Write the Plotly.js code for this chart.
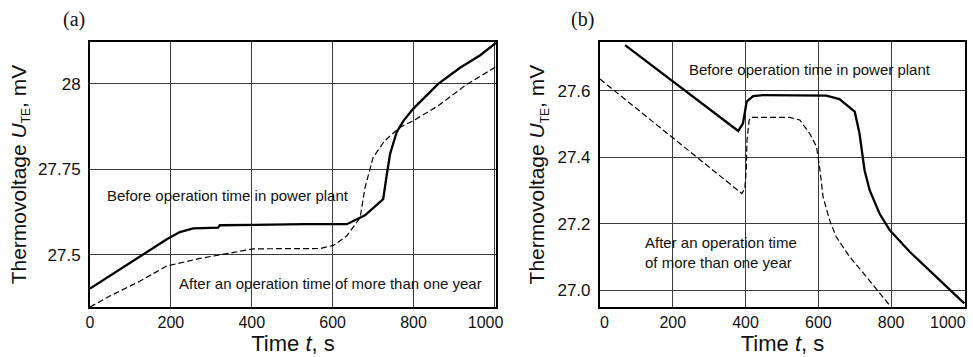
<!DOCTYPE html>
<html>
<head>
<meta charset="utf-8">
<script src="https://cdn.plot.ly/plotly-3.0.1.min.js"></script>
<style>html,body{margin:0;padding:0;background:#fff;}#chart{width:973px;height:357px;}</style>
</head>
<body>
<div id="chart"></div>
<script>
// ---- Data: panel (a) ----
const aBeforeT = [0, 128, 190, 222, 255, 317, 321, 531, 635, 680, 725, 734, 742, 758, 775, 799, 861, 915, 964, 1004];
const aBeforeU = [27.402, 27.500, 27.546, 27.567, 27.578, 27.580, 27.587, 27.590, 27.590, 27.616, 27.663, 27.736, 27.795, 27.858, 27.892, 27.927, 28.000, 28.047, 28.083, 28.120];
const aAfterT = [0, 49, 124, 190, 272, 321, 387, 404, 569, 602, 635, 668, 680, 692, 700, 729, 766, 799, 861, 931, 1004];
const aAfterU = [27.348, 27.380, 27.424, 27.468, 27.490, 27.500, 27.514, 27.518, 27.519, 27.528, 27.556, 27.609, 27.697, 27.746, 27.785, 27.834, 27.873, 27.892, 27.936, 27.998, 28.050];

// ---- Data: panel (b) ----
const bBeforeT = [69, 380, 393, 403, 421, 448, 622, 658, 700, 713, 727, 741, 768, 796, 851, 915, 979, 1001];
const bBeforeU = [27.737, 27.479, 27.502, 27.567, 27.584, 27.587, 27.585, 27.575, 27.537, 27.472, 27.361, 27.301, 27.231, 27.181, 27.116, 27.051, 26.986, 26.961];
const bAfterT = [0, 390, 398, 402, 404, 410, 416, 521, 549, 576, 595, 604, 613, 631, 649, 686, 732, 796];
const bAfterU = [27.635, 27.291, 27.306, 27.361, 27.452, 27.512, 27.520, 27.520, 27.512, 27.472, 27.432, 27.366, 27.281, 27.211, 27.161, 27.101, 27.041, 26.955];

// ---- Ticks and labels ----
const xTicks = [0, 200, 400, 600, 800, 1000];
const aXTickText = ['0', '200', '400', '600', '800', '1000&nbsp;&nbsp;&nbsp;&nbsp;'];
const bXTicks = [0, 200, 400, 600, 800];
const bXTickText = ['&nbsp;&nbsp;0', '200', '400', '600', '800'];
const bXLastTick = '1000';
const aYTicks = [27.5, 27.75, 28];
const aYTickText = ['27.5', '27.75', '28'];
const bYTicks = [27.0, 27.2, 27.4, 27.6];
const bYTickText = ['27.0', '27.2', '27.4', '27.6'];
const labelBefore = 'Before operation time in power plant';
const labelAfterA = 'After an operation time of more than one year';
const labelAfterB = 'After an operation time<br>of more than one year';
const xTitle = 'Time <i>t</i>, s';
const yTitle = 'Thermovoltage <i>U</i><sub><span style="font-size:12px">TE</span></sub>, mV';

const FONT = 'Liberation Sans, Arial, sans-serif';
const SERIF = 'Liberation Serif, Times New Roman, serif';
const solid = {color: '#000', width: 2.3};
const dashed = {color: '#000', width: 1.2, dash: '6px,3px'};

const traces = [
  {x: aBeforeT, y: aBeforeU, xaxis: 'x', yaxis: 'y', mode: 'lines', line: solid, showlegend: false},
  {x: aAfterT, y: aAfterU, xaxis: 'x', yaxis: 'y', mode: 'lines', line: dashed, showlegend: false},
  {x: bBeforeT, y: bBeforeU, xaxis: 'x2', yaxis: 'y2', mode: 'lines', line: solid, showlegend: false},
  {x: bAfterT, y: bAfterU, xaxis: 'x2', yaxis: 'y2', mode: 'lines', line: dashed, showlegend: false}
];

function xax(domain, range, anchor, vals, ticktext) {
  return {
    domain: domain, range: range, anchor: anchor,
    tickvals: vals, ticktext: ticktext, ticks: '', showgrid: true, gridcolor: '#3a3a3a', gridwidth: 1,
    showline: true, linecolor: '#000', linewidth: 2, mirror: true, zeroline: false,
    ticklabeloverflow: 'allow',
    tickfont: {family: FONT, size: 16, color: '#111'},
    title: {text: xTitle, font: {family: FONT, size: 22, color: '#111'}, standoff: 2},
    automargin: false
  };
}
function yax(domain, range, anchor, vals, text, standoff) {
  return {
    domain: domain, range: range, anchor: anchor,
    tickvals: vals, ticktext: text, ticks: '', showgrid: true, gridcolor: '#3a3a3a', gridwidth: 1,
    showline: true, linecolor: '#000', linewidth: 2, mirror: true, zeroline: false,
    tickfont: {family: FONT, size: 17, color: '#111'},
    ticklabelstandoff: 4,
    title: {text: yTitle, font: {family: FONT, size: 21, color: '#111'}, standoff: standoff},
    automargin: false
  };
}

function note(text, xref, yref, x, y, extra) {
  return Object.assign({text: text, xref: xref, yref: yref, x: x, y: y, xanchor: 'left', yanchor: 'middle',
    align: 'left', showarrow: false, font: {family: FONT, size: 15, color: '#111'}}, extra || {});
}

const yDom = [0.140, 0.882];
const layout = {
  width: 973, height: 357,
  margin: {l: 0, r: 0, t: 0, b: 0},
  paper_bgcolor: '#fff', plot_bgcolor: '#fff',
  xaxis: xax([0.0925, 0.5098], [0, 1004], 'y', xTicks, aXTickText),
  yaxis: yax(yDom, [27.348, 28.122], 'x', aYTicks, aYTickText, 6),
  xaxis2: xax([0.6166, 0.9918], [0, 1003], 'y2', bXTicks, bXTickText),
  yaxis2: yax(yDom, [26.95, 27.746], 'x2', bYTicks, bYTickText, 7),
  annotations: [
    {text: '(a)', xref: 'paper', yref: 'paper', x: 74 / 973, y: 1 - 19 / 357, xanchor: 'center', yanchor: 'middle',
     showarrow: false, font: {family: SERIF, size: 20, color: '#111'}},
    {text: '(b)', xref: 'paper', yref: 'paper', x: 582 / 973, y: 1 - 19 / 357, xanchor: 'center', yanchor: 'middle',
     showarrow: false, font: {family: SERIF, size: 20, color: '#111'}},
    note(labelBefore, 'x', 'y', (105 - 90) / 0.4045, 27.673),
    note(labelAfterA, 'x', 'y', (177 - 90) / 0.4045, 27.418),
    note(labelBefore, 'x2', 'y2', (687 - 600) / 0.3645, 27.663),
    note(labelAfterB, 'x2', 'y2', (643 - 600) / 0.3645, 27.115),
    {text: bXLastTick, xref: 'paper', yref: 'paper', x: 968 / 973, y: 1 - 322 / 357, xanchor: 'right', yanchor: 'middle',
     showarrow: false, font: {family: FONT, size: 16, color: '#111'}}
  ]
};

Plotly.newPlot('chart', traces, layout, {displayModeBar: false, staticPlot: true});
</script>
</body>
</html>
